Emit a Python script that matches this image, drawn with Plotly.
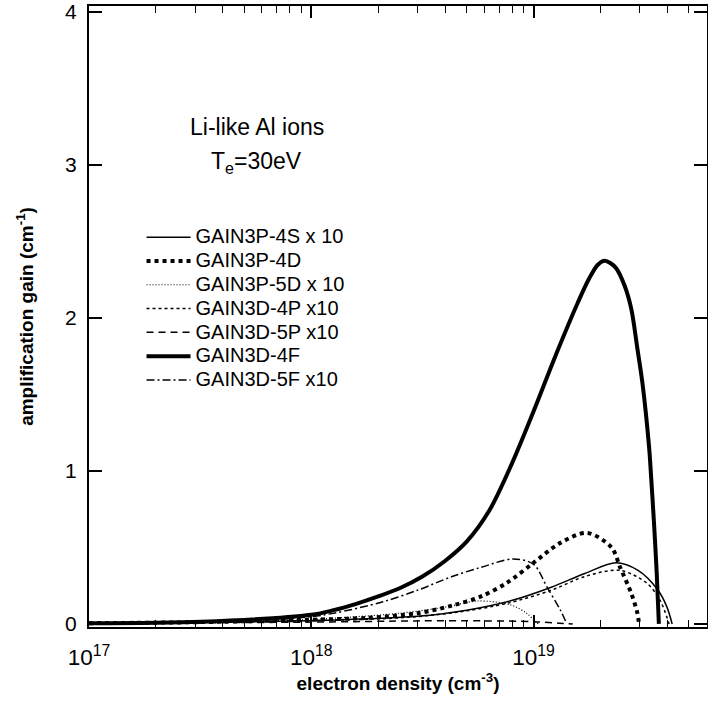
import plotly.graph_objects as go

# electron density (cm^-3) and gain (cm^-1)
ne_4s = [1e17, 3.2e17, 1.26e18, 3.0e18, 5.0e18, 8.1e18, 1.2e19, 1.7e19, 2.35e19, 2.95e19, 3.63e19, 3.98e19, 4.2e19]
g_4s = [0.005, 0.01, 0.026, 0.05, 0.09, 0.156, 0.24, 0.33, 0.40, 0.35, 0.22, 0.11, 0.0]

ne_4d = [1e17, 3.2e17, 8.9e17, 1.78e18, 3.0e18, 4.3e18, 5.8e18, 7.6e18, 1.0e19, 1.32e19, 1.74e19, 2.24e19, 2.45e19, 2.75e19, 2.93e19, 2.98e19]
g_4d = [0.005, 0.012, 0.026, 0.04, 0.07, 0.12, 0.18, 0.27, 0.40, 0.53, 0.595, 0.50, 0.37, 0.20, 0.07, 0.0]

ne_5d = [1e17, 3.2e17, 8.9e17, 1.5e18, 2.5e18, 4.0e18, 5.6e18, 7.9e18, 9.3e18, 1.02e19, 1.05e19]
g_5d = [0.005, 0.01, 0.026, 0.045, 0.07, 0.11, 0.15, 0.124, 0.07, 0.015, 0.0]

ne_4p = [1e17, 3.2e17, 2.5e18, 4.7e18, 7.6e18, 1.2e19, 1.7e19, 2.45e19, 3.24e19, 3.7e19, 4.07e19]
g_4p = [0.005, 0.01, 0.04, 0.08, 0.135, 0.22, 0.31, 0.35, 0.265, 0.156, 0.0]

ne_5p = [1e17, 1e18, 3e18, 6e18, 1e19, 1.3e19, 1.5e19]
g_5p = [0.005, 0.012, 0.02, 0.02, 0.015, 0.005, 0.0]

ne_4f = [1e17, 3.2e17, 1.0e18, 1.26e18, 1.58e18, 2.0e18, 2.51e18, 3.16e18, 3.98e18, 5.01e18,
         6.31e18, 7.94e18, 1.0e19, 1.26e19, 1.58e19, 1.78e19, 1.95e19, 2.09e19,
         2.34e19, 2.57e19, 2.75e19, 2.93e19, 3.09e19, 3.31e19, 3.37e19, 3.48e19, 3.58e19, 3.66e19]
g_4f = [0.005, 0.015, 0.06, 0.09, 0.13, 0.18, 0.235, 0.31, 0.41, 0.54,
        0.74, 1.04, 1.39, 1.76, 2.10, 2.26, 2.35, 2.375,
        2.33, 2.21, 2.06, 1.80, 1.57, 1.15, 0.985, 0.66, 0.33, 0.0]

ne_5f = [1e17, 3.2e17, 8.9e17, 1.26e18, 2.1e18, 3.0e18, 4.3e18, 5.8e18, 8.1e18, 1.0e19, 1.15e19, 1.32e19, 1.41e19]
g_5f = [0.005, 0.012, 0.04, 0.07, 0.145, 0.22, 0.31, 0.37, 0.425, 0.39, 0.24, 0.09, 0.0]

names = ["GAIN3P-4S x 10", "GAIN3P-4D", "GAIN3P-5D x 10", "GAIN3D-4P x10",
         "GAIN3D-5P x10", "GAIN3D-4F", "GAIN3D-5F x10"]

series = [(ne_4s, g_4s, 1.5, "solid"),
          (ne_4d, g_4d, 4, "4px,4px"),
          (ne_5d, g_5d, 1.2, "1px,2px"),
          (ne_4p, g_4p, 1.5, "3px,3px"),
          (ne_5p, g_5p, 1.5, "7px,5px"),
          (ne_4f, g_4f, 4, "solid"),
          (ne_5f, g_5f, 1.5, "8px,3px,2px,3px")]

fig = go.Figure()
for name, (x, y, w, d) in zip(names, series):
    fig.add_trace(go.Scatter(
        x=x, y=y, mode="lines", name='<span style="font-size:20px">' + name + "</span>",
        line=dict(color="black", width=w, dash=d, shape="spline", smoothing=0.9),
    ))

font = "Liberation Sans, Arial, sans-serif"

fig.update_xaxes(
    type="log", range=[17, 19.78], dtick=1, exponentformat="power", automargin=False,
    showgrid=False, zeroline=False,
    ticks="inside", ticklen=12, tickwidth=1.5, tickcolor="black",
    minor=dict(dtick="D1", ticks="inside", ticklen=7, tickwidth=1.2, tickcolor="black", showgrid=False),
    showline=True, linecolor="black", linewidth=2, mirror="allticks",
    tickfont=dict(family=font, size=18, color="black"), ticklabelstandoff=10,
    title=dict(text="<b>electron density (cm<sup>-3</sup>)</b>", font=dict(family=font, size=19, color="black"),
               standoff=4),
)
fig.update_yaxes(
    range=[-0.02, 4.04], dtick=1, showgrid=False, zeroline=False, automargin=False,
    ticks="inside", ticklen=13, tickwidth=1.5, tickcolor="black",
    showline=True, linecolor="black", linewidth=2, mirror="allticks",
    tickfont=dict(family=font, size=21, color="black"), ticklabelstandoff=6,
    title=dict(text="<b>amplification gain (cm<sup>-1</sup>)</b>", font=dict(family=font, size=19, color="black"),
               standoff=26),
)

fig.add_annotation(x=0.272, y=0.805, xref="paper", yref="paper", xanchor="center", yanchor="middle",
                   showarrow=False, text="Li-like Al ions", font=dict(family=font, size=23, color="black"))
fig.add_annotation(x=0.271, y=0.748, xref="paper", yref="paper", xanchor="center", yanchor="middle",
                   showarrow=False, text="T<sub>e</sub>=30eV", font=dict(family=font, size=23, color="black"))

fig.update_layout(
    width=708, height=708, margin=dict(l=89, r=1, t=6, b=81),
    plot_bgcolor="white", paper_bgcolor="white",
    showlegend=True,
    legend=dict(x=0.085, y=0.655, xanchor="left", yanchor="top", bgcolor="rgba(0,0,0,0)",
                font=dict(family=font, size=16, color="black"), itemwidth=44),
)

fig.write_html("out.html", config={"displayModeBar": False},
               post_script="document.body.style.margin='0px';")
